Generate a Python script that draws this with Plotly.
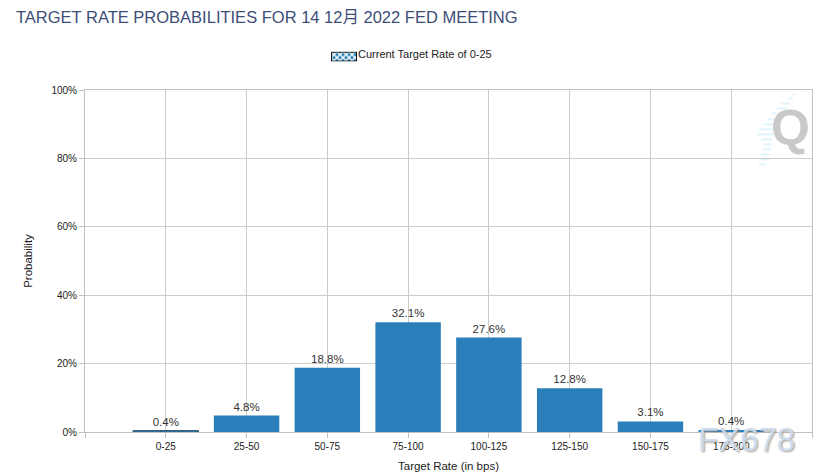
import base64
import plotly.graph_objects as go

categories = ["0-25", "25-50", "50-75", "75-100", "100-125", "125-150", "150-175", "175-200"]
probabilities = [0.4, 4.8, 18.8, 32.1, 27.6, 12.8, 3.1, 0.4]
current_index = 0
current_name = "Current Target Rate of 0-25"
title_text = "TARGET RATE PROBABILITIES FOR 14 12月 2022 FED MEETING"
y_ticks = [0, 20, 40, 60, 80, 100]

FONT = "Liberation Sans, Arial, Noto Sans CJK SC, sans-serif"
BLUE = "#2a7fba"
GRID = "#cccccc"
W, H = 825, 474

positions = list(range(len(categories)))
other = [i for i in positions if i != current_index]

fig = go.Figure()
fig.add_bar(
    x=[positions[i] for i in other], y=[probabilities[i] for i in other],
    width=0.81, marker=dict(color=BLUE, line_width=0), showlegend=False,
    text=[f"{probabilities[i]}%" for i in other],
)
fig.add_bar(
    x=[current_index], y=[probabilities[current_index]], showlegend=False,
    width=0.81,
    marker=dict(color=BLUE, line=dict(color="#1f4e6e", width=1),
                pattern=dict(shape="x", bgcolor=BLUE, fgcolor="#ffffff", size=6, solidity=0.3)),
    text=[f"{probabilities[current_index]}%"],
)
fig.update_traces(textposition="outside", cliponaxis=False,
                  textfont=dict(family=FONT, size=11.5, color="#333333"))
# Legend entry: its swatch is the hatched picture placed underneath it
fig.add_scatter(x=[None], y=[None], mode="lines", name=current_name,
                line=dict(color="rgba(0,0,0,0)", width=1), showlegend=True)

swatch = (
    '<svg xmlns="http://www.w3.org/2000/svg" width="26" height="10" viewBox="0 0 26 10">'
    '<defs><pattern id="p" width="6" height="6" patternUnits="userSpaceOnUse">'
    f'<rect width="6" height="6" fill="{BLUE}"/>'
    '<path d="M0 0L6 6M6 0L0 6" stroke="#ffffff" stroke-width="1.3"/></pattern></defs>'
    '<rect x="0.5" y="0.5" width="25" height="9" fill="url(#p)" stroke="#111111"/></svg>'
)
swatch_uri = "data:image/svg+xml;base64," + base64.b64encode(swatch.encode()).decode()

logo_rows = [(94, 793, 795), (98, 788, 793), (103, 781, 790), (108, 777, 787),
             (113, 772, 784), (119, 767, 781), (124, 763, 778), (129, 759, 775),
             (134, 757, 773), (139, 761, 772), (144, 764, 772), (149, 762, 771),
             (154, 761, 770), (159, 760, 769), (164, 759, 765)]
shapes = [dict(type="line", xref="paper", yref="paper", layer="below",
               x0=(a - 85) / 727, x1=(b - 85) / 727,
               y0=(432.5 - r) / 343, y1=(432.5 - r) / 343,
               line=dict(color="#dff4fb", width=2)) for r, a, b in logo_rows]

fig.update_layout(
    width=W, height=H, autosize=False,
    margin=dict(l=85, r=13, t=89.5, b=41.5, pad=0, autoexpand=False),
    paper_bgcolor="white", plot_bgcolor="white",
    font=dict(family=FONT, size=10, color="#222222"),
    title=dict(text=title_text, x=16 / W, xanchor="left", y=1 - 17 / H, yanchor="middle",
               automargin=False, font=dict(family=FONT, size=16.5, color="#3e4d78")),
    showlegend=True,
    legend=dict(x=(318 - 85) / 727, xanchor="left", y=1 - 54 / H, yref="container", yanchor="middle",
                orientation="h", itemwidth=30, font=dict(size=11, color="#222222"),
                bgcolor="rgba(0,0,0,0)"),
    bargap=0.19, shapes=shapes,
    images=[dict(source=swatch_uri, xref="paper", yref="paper",
                 x=(331 - 85) / 727, y=(432.5 - 51) / 343,
                 sizex=26 / 727, sizey=10 / 343, sizing="stretch",
                 xanchor="left", yanchor="top", layer="above")],
    annotations=[
        dict(text="Q", xref="paper", yref="paper", x=(790 - 85) / 727, y=(432.5 - 128) / 343,
             showarrow=False, xanchor="center", yanchor="middle",
             font=dict(family="Liberation Sans Narrow, Liberation Sans", size=50,
                       color="#c9c9c9", weight="bold")),
        dict(text="FX678", xref="paper", yref="paper", x=(746 - 85) / 727, y=(432.5 - 440) / 343,
             showarrow=False, xanchor="center", yanchor="middle",
             font=dict(family="Liberation Sans", size=33, color="rgba(205,224,245,0.9)",
                       shadow="1px 1px 2px #9a8f85")),
    ],
)
fig.update_xaxes(
    automargin=False,
    range=[-1, len(categories)], tickmode="array",
    tickvals=[-1] + positions + [len(categories)],
    ticktext=[""] + categories + [""],
    showgrid=True, gridcolor=GRID, gridwidth=1, zeroline=False,
    showline=True, linecolor="#c0c0c0", linewidth=1, mirror=True,
    ticks="outside", ticklen=5, tickcolor="#c0c0c0", tickfont=dict(size=10, color="#222222"),
    title=dict(text="Target Rate (in bps)", font=dict(size=11.5, color="#222222"), standoff=10),
)
fig.update_yaxes(
    automargin=False,
    range=[0, 100], tickmode="array", tickvals=y_ticks,
    ticktext=[f"{v}%" for v in y_ticks],
    showgrid=True, gridcolor=GRID, gridwidth=1, zeroline=False,
    showline=True, linecolor="#c0c0c0", linewidth=1, mirror=True,
    ticks="outside", ticklen=5, tickcolor="#c0c0c0", tickfont=dict(size=10, color="#222222"),
    title=dict(text="Probability", font=dict(size=11.5, color="#222222"), standoff=16),
)
fig.write_html("out.html", config={"displayModeBar": False},
               post_script="document.body.style.margin='0';")
